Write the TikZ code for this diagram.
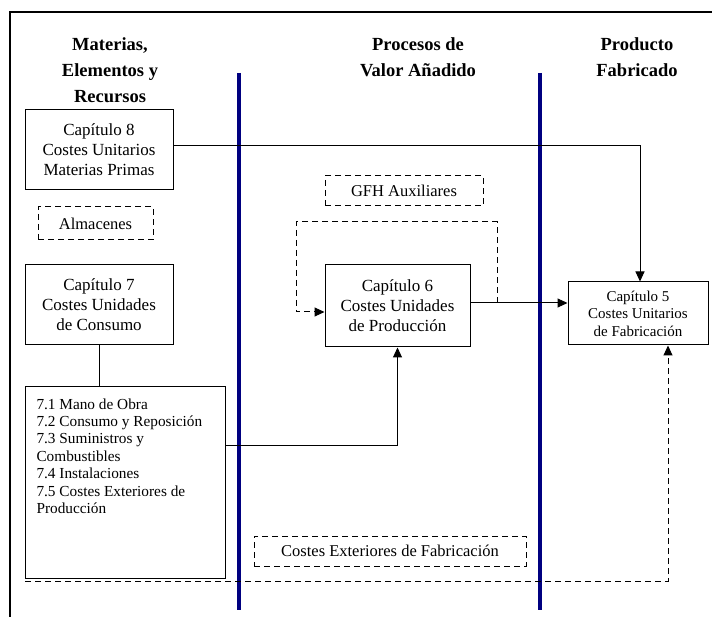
\documentclass[tikz,border=0pt]{standalone}
\usepackage{fontspec}
\setmainfont{Liberation Serif}
\usepackage{tikz}
\usetikzlibrary{positioning,calc,arrows.meta}
\definecolor{laneblue}{RGB}{0,0,128}

\begin{document}
\begin{tikzpicture}[
    x=1pt, y=-1pt,
    line width=1pt,
    >={Triangle[length=10pt,width=9pt]},
    head/.style={font=\bfseries\fontsize{18.5}{26}\selectfont, align=center},
    chapbox/.style={draw, align=center, inner sep=0pt, font=\fontsize{17}{20}\selectfont},
    dashbox/.style={draw, dashed, dash pattern=on 6pt off 4pt, inner sep=0pt, font=\fontsize{16.5}{20}\selectfont},
    flow/.style={draw, ->},
    dflow/.style={draw, ->, dash pattern=on 6pt off 4pt},
    lane/.style={draw=laneblue, line width=4pt}
]
\useasboundingbox (0,0) rectangle (712,617);
\draw[line width=1.2pt] (10,617) |- (712,12);

% column headings
\node[head] (hmat) at (110,70) {Materias,\\Elementos y\\Recursos};
\node[head] (hproc) at (418,57) {Procesos de\\Valor Añadido};
\node[head] (hprod) at (637,57) {Producto\\Fabricado};

% lanes
\draw[lane] (239,73) -- (239,610);
\draw[lane] (540,73) -- (540,610);

% boxes
\node[chapbox, minimum width=148pt, minimum height=80pt] (cap8) at (99,150) {Capítulo 8\\Costes Unitarios\\Materias Primas};
\node[dashbox, minimum width=115pt, minimum height=33pt] (alm) at (95.5,223.5) {Almacenes};
\node[chapbox, minimum width=148pt, minimum height=80pt] (cap7) at (99,305) {Capítulo 7\\Costes Unidades\\de Consumo};
\node[draw, inner xsep=11pt, inner ysep=0pt, anchor=north west, font=\fontsize{15.3}{17.4}\selectfont] (list) at (25,386)
    {\parbox[c][192pt][t]{178pt}{\vspace*{12pt}7.1 Mano de Obra\\7.2 Consumo y Reposición\\7.3 Suministros y\\Combustibles\\7.4 Instalaciones\\7.5 Costes Exteriores de\\Producción}};
\node[dashbox, minimum width=158pt, minimum height=30pt] (gfh) at (404,191) {GFH Auxiliares};
\node[chapbox, minimum width=145pt, minimum height=82pt] (cap6) at (397.5,306) {Capítulo 6\\Costes Unidades\\de Producción};
\node[chapbox, minimum width=140pt, minimum height=63pt, font=\fontsize{15}{17.5}\selectfont] (cap5) at (638,313.5) {Capítulo 5\\Costes Unitarios\\de Fabricación};
\node[dashbox, minimum width=272pt, minimum height=30pt] (cext) at (390,551) {Costes Exteriores de Fabricación};

% connectors
\coordinate (c6out) at ([yshift=3pt]cap6.east);
\coordinate (loopR) at (497,222);
\coordinate (loopL) at (296,222);
\coordinate (extL) at (25,581);
\draw[flow] ([yshift=4pt]cap8.east) -| ([xshift=2pt]cap5.north);
\draw (cap7.south) -- (list.north -| cap7.south);
\draw[flow] ([yshift=37pt]list.east) -| (cap6.south);
\draw[flow] (c6out) -- (c6out -| cap5.west);
\draw[dflow] (loopR |- c6out) -- (loopR) -- (loopL) |- ([yshift=-6pt]cap6.west);
\draw[dflow] (extL) -| ([xshift=30pt]cap5.south);
\end{tikzpicture}
\end{document}
